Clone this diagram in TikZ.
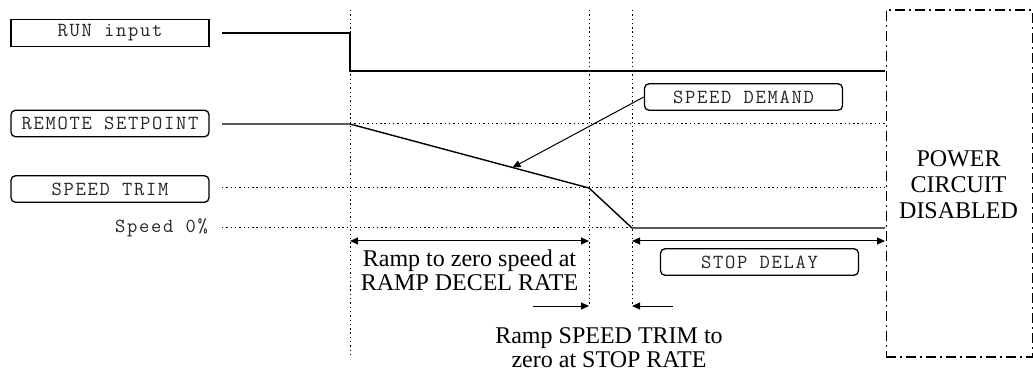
\documentclass[tikz,border=0pt]{standalone}
\usepackage{fontspec}
\setmainfont{Liberation Serif}
\newfontfamily\labfont{Latin Modern Mono}[LetterSpace=8.5]
\usetikzlibrary{arrows.meta}
\tikzset{
  lab/.style={draw, line width=1.3pt, minimum width=198pt, minimum height=26.5pt, inner sep=0pt,
    font=\labfont\fontsize{20}{22}\selectfont, text=black!85},
  rlab/.style={lab, rounded corners=4.5pt},
  sig/.style={line width=1.4pt},
  gridline/.style={line width=1pt, dash pattern=on 1.4pt off 2.9pt},
  dim/.style={line width=1pt, {Triangle[length=8pt,width=7pt]}-{Triangle[length=8pt,width=7pt]}},
  onearrow/.style={line width=1pt, -{Triangle[length=8pt,width=7pt]}},
  note/.style={font=\fontsize{24}{24}\selectfont, align=center, inner sep=0pt, anchor=north},
}
\begin{document}
\begin{tikzpicture}[x=1pt,y=-1pt]
\useasboundingbox (0,0) rectangle (1033,371);
% labels
\node[lab]  (run)  at (110,33)    {RUN input};
\node[rlab] (rsp)  at (110,123.5) {REMOTE SETPOINT};
\node[rlab] (trim) at (110,189)   {SPEED TRIM};
\node[anchor=east, inner sep=0pt, font=\labfont\fontsize{20}{22}\selectfont, text=black!85] (zero) at (208,228) {Speed 0\%};
\node[rlab] (dem)   at (743.5,97)  {SPEED DEMAND};
\node[rlab] (delay) at (759.5,262) {STOP DELAY};
% power circuit box
\node[draw, line width=1.8pt, dash pattern=on 10pt off 4pt on 2pt off 4pt, inner sep=0pt,
      minimum width=146pt, minimum height=347pt, anchor=north west] (pwr) at (885.5,9) {};
\node[font=\fontsize{24}{26}\selectfont, align=center, inner sep=0pt] (pwrtxt) at (958.5,185) {POWER\\CIRCUIT\\DISABLED};
% time markers
\coordinate (t1top) at (350,10);  \coordinate (t1bot) at (350,357);
\coordinate (t2top) at (589,10);  \coordinate (t2bot) at (589,306);
\coordinate (t3top) at (632,10);  \coordinate (t3bot) at (632,306);
\draw[gridline] (t1top) -- (t1bot);
\draw[gridline] (t2top) -- (t2bot);
\draw[gridline] (t3top) -- (t3bot);
% signal coordinates
\coordinate (runS) at (222,33);
\coordinate (runA) at (350,33);
\coordinate (runB) at (350,71);
\coordinate (runE) at (885,71);
\coordinate (rspS) at (222,124);
\coordinate (k1) at (350,124);
\coordinate (k2) at (589,188);
\coordinate (k3) at (632,228);
\coordinate (k4) at (885,228);
\coordinate (rspE) at (885,124);
\coordinate (trimS) at (222,188);
\coordinate (trimE) at (885,188);
\coordinate (zeroS) at (222,228);
% dotted reference levels
\draw[gridline] (k1) -- (rspE);
\draw[gridline] (trimS) -- (trimE);
\draw[gridline] (zeroS) -- (k3);
% signals
\draw[sig] (runS) -- (runA) -- (runB) -- (runE);
\draw[sig] (rspS) -- (k1) -- (k2) -- (k3) -- (k4);
% speed demand pointer
\path (k1) -- (k2) coordinate[pos=0.68] (dp);
\draw[onearrow] (dem.west) -- (dp);
% dimension arrows
\coordinate (d1a) at (350,241); \coordinate (d1b) at (589,241);
\coordinate (d2a) at (632,241); \coordinate (d2b) at (885,241);
\draw[dim] (d1a) -- (d1b);
\draw[dim] (d2a) -- (d2b);
\coordinate (s1a) at (533,306); \coordinate (s1b) at (589,306);
\coordinate (s2a) at (673,306); \coordinate (s2b) at (632,306);
\draw[onearrow] (s1a) -- (s1b);
\draw[onearrow] (s2a) -- (s2b);
% notes
\node[note] (n1) at (469.5,249.5) {Ramp to zero speed at\\RAMP DECEL RATE};
\node[note] (n2) at (609,327) {Ramp SPEED TRIM to\\zero at STOP RATE};
\end{tikzpicture}
\end{document}
